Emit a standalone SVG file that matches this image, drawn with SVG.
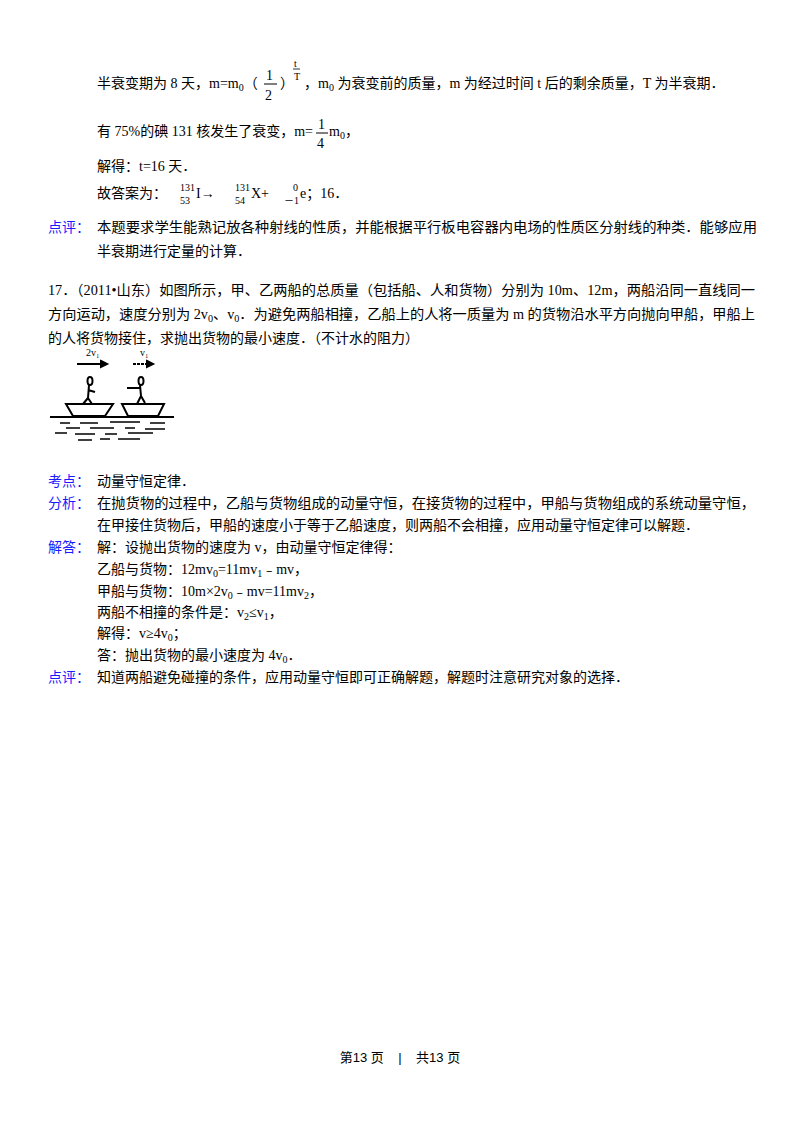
<svg xmlns="http://www.w3.org/2000/svg" width="800" height="1132" viewBox="0 0 800 1132">
<style>
text{font-family:"Liberation Serif","Noto Sans CJK SC",serif;font-size:14px;fill:#000}
.b{fill:#1a1aff}
.s{font-size:10px}
.f{font-family:"Liberation Sans","Noto Sans CJK SC",sans-serif;font-size:13px}
</style>
<rect width="800" height="1132" fill="#fff"/>
<g id="solution16">
<text x="97" y="88">半衰变期为 8 天，m=m<tspan class="s" dy="3">0</tspan><tspan dy="-3">（</tspan></text>
<text x="266" y="80" font-size="16">1</text><line x1="264" y1="84" x2="277" y2="84" stroke="#000"/><text x="265" y="100" font-size="16">2</text>
<text x="280" y="88">）</text>
<text x="294" y="67" class="s">t</text><line x1="293" y1="69" x2="300" y2="69" stroke="#000" stroke-width="0.8"/><text x="294" y="80" class="s">T</text>
<text x="304" y="88">，m<tspan class="s" dy="3">0</tspan><tspan dy="-3"> 为衰变前的质量，m 为经过时间 t 后的剩余质量，T 为半衰期．</tspan></text>
<text x="97" y="136">有 75%的碘 131 核发生了衰变，m=</text>
<text x="318" y="129" font-size="16">1</text><line x1="316" y1="133" x2="328" y2="133" stroke="#000"/><text x="317" y="148" font-size="16">4</text>
<text x="329" y="136">m<tspan class="s" dy="3">0</tspan><tspan dy="-3">，</tspan></text>
<text x="97" y="171">解得：t=16 天．</text>
<text x="97" y="198">故答案为：</text>
<text x="180" y="191" class="s">131</text><text x="180" y="204" class="s">53</text><text x="196" y="198">I→</text>
<text x="235" y="191" class="s">131</text><text x="235" y="204" class="s">54</text><text x="251" y="198">X+</text>
<text x="293" y="191" class="s">0</text><text x="284" y="204" class="s">－1</text><text x="300" y="198">e；16．</text>
<text x="48" y="232" class="b">点评：</text>
<text x="97" y="232" textLength="660" lengthAdjust="spacingAndGlyphs">本题要求学生能熟记放各种射线的性质，并能根据平行板电容器内电场的性质区分射线的种类．能够应用</text>
<text x="97" y="256">半衰期进行定量的计算．</text>
</g>
<g id="question17">
<text x="48" y="295" textLength="707" lengthAdjust="spacingAndGlyphs">17．（2011•山东）如图所示，甲、乙两船的总质量（包括船、人和货物）分别为 10m、12m，两船沿同一直线同一</text>
<text x="48" y="319" textLength="707" lengthAdjust="spacingAndGlyphs">方向运动，速度分别为 2v<tspan class="s" dy="3">0</tspan><tspan dy="-3">、v</tspan><tspan class="s" dy="3">0</tspan><tspan dy="-3">．为避免两船相撞，乙船上的人将一质量为 m 的货物沿水平方向抛向甲船，甲船上</tspan></text>
<text x="48" y="343">的人将货物接住，求抛出货物的最小速度．（不计水的阻力）</text>
</g>
<g id="figure" stroke="#000" fill="none" stroke-width="2">
<text x="86" y="356" class="s" stroke="none">2v₁</text><text x="140" y="356" class="s" stroke="none">v₁</text>
<line x1="77" y1="364" x2="103" y2="364"/><path d="M101 361 L107 364 L101 367Z" fill="#000"/>
<line x1="133" y1="364" x2="149" y2="364" stroke-dasharray="3 1"/><path d="M147 361 L153 364 L147 367Z" fill="#000"/>
<ellipse cx="90" cy="381" rx="2.5" ry="4"/><path d="M89 385 L88 398 M88 390 L95 392 M88 398 L83 404 M88 398 L92 404"/>
<ellipse cx="141" cy="381" rx="2.5" ry="4"/><path d="M140 385 L141 396 M140 388 L127 388 M141 396 L137 404 M141 396 L145 403"/>
<path d="M66 404 L113 404 L105 416 L73 416 Z"/><path d="M122 404 L164 404 L158 416 L128 416 Z"/>
<line x1="50" y1="417" x2="174" y2="417"/>
<path d="M60 423h10M80 423h18M110 422h30M150 423h15M66 428h14M90 428h24M125 428h10M145 429h20M55 433h12M75 434h20M105 434h12M128 433h25M78 440h14M100 439h10M118 439h22" stroke-width="1.5"/>
</g>
<g id="answer17">
<text x="48" y="486" class="b">考点：</text><text x="97" y="486">动量守恒定律．</text>
<text x="48" y="508" class="b">分析：</text>
<text x="97" y="508" textLength="658" lengthAdjust="spacingAndGlyphs">在抛货物的过程中，乙船与货物组成的动量守恒，在接货物的过程中，甲船与货物组成的系统动量守恒，</text>
<text x="97" y="530">在甲接住货物后，甲船的速度小于等于乙船速度，则两船不会相撞，应用动量守恒定律可以解题．</text>
<text x="48" y="552" class="b">解答：</text><text x="97" y="552">解：设抛出货物的速度为 v，由动量守恒定律得：</text>
<text x="97" y="574">乙船与货物：12mv<tspan class="s" dy="3">0</tspan><tspan dy="-3">=11mv</tspan><tspan class="s" dy="3">1</tspan><tspan dy="-3">﹣mv，</tspan></text>
<text x="97" y="596">甲船与货物：10m×2v<tspan class="s" dy="3">0</tspan><tspan dy="-3">﹣mv=11mv</tspan><tspan class="s" dy="3">2</tspan><tspan dy="-3">，</tspan></text>
<text x="97" y="617">两船不相撞的条件是：v<tspan class="s" dy="3">2</tspan><tspan dy="-3">≤v</tspan><tspan class="s" dy="3">1</tspan><tspan dy="-3">，</tspan></text>
<text x="97" y="638">解得：v≥4v<tspan class="s" dy="3">0</tspan><tspan dy="-3">；</tspan></text>
<text x="97" y="660">答：抛出货物的最小速度为 4v<tspan class="s" dy="3">0</tspan><tspan dy="-3">．</tspan></text>
<text x="48" y="682" class="b">点评：</text><text x="97" y="682">知道两船避免碰撞的条件，应用动量守恒即可正确解题，解题时注意研究对象的选择．</text>
</g>
<g id="footer">
<text x="400" y="1062" class="f" text-anchor="middle" xml:space="preserve">第13 页    |    共13 页</text>
</g>
</svg>
